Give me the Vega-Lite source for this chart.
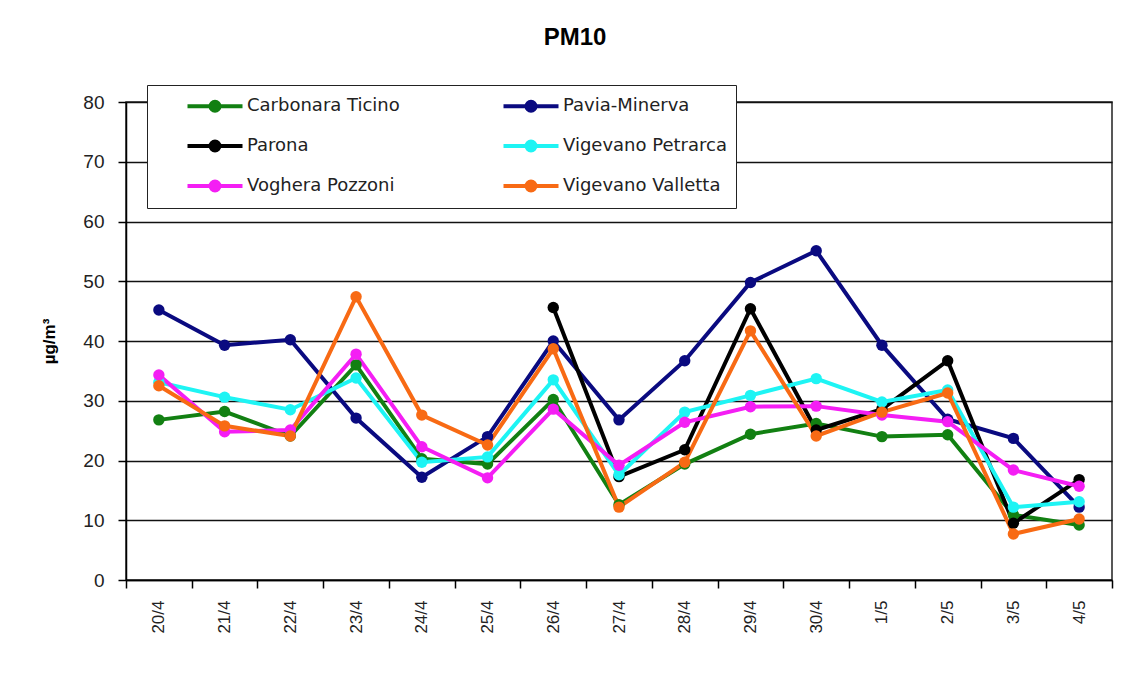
{
  "$schema": "https://vega.github.io/schema/vega-lite/v6.json",
  "width": 986,
  "height": 478,
  "autosize": {"type": "none"},
  "padding": {"left": 126, "top": 102, "right": 33, "bottom": 117},
  "background": "white",
  "title": {
    "text": "PM10",
    "anchor": "middle",
    "dx": -44,
    "offset": 35,
    "font": "Liberation Sans",
    "fontSize": 24,
    "fontWeight": "bold",
    "color": "black"
  },
  "data": {
    "values": [
      {"date": "20/4", "station": "Carbonara Ticino", "value": 26.8},
      {"date": "21/4", "station": "Carbonara Ticino", "value": 28.2},
      {"date": "22/4", "station": "Carbonara Ticino", "value": 24.1},
      {"date": "23/4", "station": "Carbonara Ticino", "value": 36.0},
      {"date": "24/4", "station": "Carbonara Ticino", "value": 20.3},
      {"date": "25/4", "station": "Carbonara Ticino", "value": 19.4},
      {"date": "26/4", "station": "Carbonara Ticino", "value": 30.2},
      {"date": "27/4", "station": "Carbonara Ticino", "value": 12.6},
      {"date": "28/4", "station": "Carbonara Ticino", "value": 19.4},
      {"date": "29/4", "station": "Carbonara Ticino", "value": 24.4},
      {"date": "30/4", "station": "Carbonara Ticino", "value": 26.2},
      {"date": "1/5", "station": "Carbonara Ticino", "value": 24.0},
      {"date": "2/5", "station": "Carbonara Ticino", "value": 24.3},
      {"date": "3/5", "station": "Carbonara Ticino", "value": 10.9},
      {"date": "4/5", "station": "Carbonara Ticino", "value": 9.2},

      {"date": "20/4", "station": "Pavia-Minerva", "value": 45.2},
      {"date": "21/4", "station": "Pavia-Minerva", "value": 39.3},
      {"date": "22/4", "station": "Pavia-Minerva", "value": 40.2},
      {"date": "23/4", "station": "Pavia-Minerva", "value": 27.1},
      {"date": "24/4", "station": "Pavia-Minerva", "value": 17.2},
      {"date": "25/4", "station": "Pavia-Minerva", "value": 24.0},
      {"date": "26/4", "station": "Pavia-Minerva", "value": 40.0},
      {"date": "27/4", "station": "Pavia-Minerva", "value": 26.8},
      {"date": "28/4", "station": "Pavia-Minerva", "value": 36.7},
      {"date": "29/4", "station": "Pavia-Minerva", "value": 49.8},
      {"date": "30/4", "station": "Pavia-Minerva", "value": 55.1},
      {"date": "1/5", "station": "Pavia-Minerva", "value": 39.3},
      {"date": "2/5", "station": "Pavia-Minerva", "value": 26.9},
      {"date": "3/5", "station": "Pavia-Minerva", "value": 23.7},
      {"date": "4/5", "station": "Pavia-Minerva", "value": 12.2},

      {"date": "26/4", "station": "Parona", "value": 45.6},
      {"date": "27/4", "station": "Parona", "value": 17.3},
      {"date": "28/4", "station": "Parona", "value": 21.8},
      {"date": "29/4", "station": "Parona", "value": 45.4},
      {"date": "30/4", "station": "Parona", "value": 25.1},
      {"date": "1/5", "station": "Parona", "value": 28.6},
      {"date": "2/5", "station": "Parona", "value": 36.7},
      {"date": "3/5", "station": "Parona", "value": 9.5},
      {"date": "4/5", "station": "Parona", "value": 16.8},

      {"date": "20/4", "station": "Vigevano Petrarca", "value": 33.1},
      {"date": "21/4", "station": "Vigevano Petrarca", "value": 30.6},
      {"date": "22/4", "station": "Vigevano Petrarca", "value": 28.5},
      {"date": "23/4", "station": "Vigevano Petrarca", "value": 33.8},
      {"date": "24/4", "station": "Vigevano Petrarca", "value": 19.7},
      {"date": "25/4", "station": "Vigevano Petrarca", "value": 20.6},
      {"date": "26/4", "station": "Vigevano Petrarca", "value": 33.5},
      {"date": "27/4", "station": "Vigevano Petrarca", "value": 17.6},
      {"date": "28/4", "station": "Vigevano Petrarca", "value": 28.1},
      {"date": "29/4", "station": "Vigevano Petrarca", "value": 30.9},
      {"date": "30/4", "station": "Vigevano Petrarca", "value": 33.7},
      {"date": "1/5", "station": "Vigevano Petrarca", "value": 29.8},
      {"date": "2/5", "station": "Vigevano Petrarca", "value": 31.8},
      {"date": "3/5", "station": "Vigevano Petrarca", "value": 12.2},
      {"date": "4/5", "station": "Vigevano Petrarca", "value": 13.1},

      {"date": "20/4", "station": "Voghera Pozzoni", "value": 34.3},
      {"date": "21/4", "station": "Voghera Pozzoni", "value": 24.8},
      {"date": "22/4", "station": "Voghera Pozzoni", "value": 25.1},
      {"date": "23/4", "station": "Voghera Pozzoni", "value": 37.8},
      {"date": "24/4", "station": "Voghera Pozzoni", "value": 22.3},
      {"date": "25/4", "station": "Voghera Pozzoni", "value": 17.1},
      {"date": "26/4", "station": "Voghera Pozzoni", "value": 28.6},
      {"date": "27/4", "station": "Voghera Pozzoni", "value": 19.2},
      {"date": "28/4", "station": "Voghera Pozzoni", "value": 26.4},
      {"date": "29/4", "station": "Voghera Pozzoni", "value": 29.0},
      {"date": "30/4", "station": "Voghera Pozzoni", "value": 29.1},
      {"date": "1/5", "station": "Voghera Pozzoni", "value": 27.6},
      {"date": "2/5", "station": "Voghera Pozzoni", "value": 26.5},
      {"date": "3/5", "station": "Voghera Pozzoni", "value": 18.4},
      {"date": "4/5", "station": "Voghera Pozzoni", "value": 15.7},

      {"date": "20/4", "station": "Vigevano Valletta", "value": 32.5},
      {"date": "21/4", "station": "Vigevano Valletta", "value": 25.8},
      {"date": "22/4", "station": "Vigevano Valletta", "value": 24.1},
      {"date": "23/4", "station": "Vigevano Valletta", "value": 47.4},
      {"date": "24/4", "station": "Vigevano Valletta", "value": 27.6},
      {"date": "25/4", "station": "Vigevano Valletta", "value": 22.6},
      {"date": "26/4", "station": "Vigevano Valletta", "value": 38.7},
      {"date": "27/4", "station": "Vigevano Valletta", "value": 12.2},
      {"date": "28/4", "station": "Vigevano Valletta", "value": 19.7},
      {"date": "29/4", "station": "Vigevano Valletta", "value": 41.7},
      {"date": "30/4", "station": "Vigevano Valletta", "value": 24.1},
      {"date": "1/5", "station": "Vigevano Valletta", "value": 28.1},
      {"date": "2/5", "station": "Vigevano Valletta", "value": 31.3},
      {"date": "3/5", "station": "Vigevano Valletta", "value": 7.7},
      {"date": "4/5", "station": "Vigevano Valletta", "value": 10.2}
    ]
  },
  "mark": {
    "type": "line",
    "strokeWidth": 4,
    "point": {"filled": true, "size": 130, "opacity": 1}
  },
  "encoding": {
    "x": {
      "field": "date",
      "type": "nominal",
      "sort": ["20/4","21/4","22/4","23/4","24/4","25/4","26/4","27/4","28/4","29/4","30/4","1/5","2/5","3/5","4/5"],
      "scale": {"type": "band", "paddingInner": 0, "paddingOuter": 0},
      "axis": {
        "title": null,
        "labelAngle": -90,
        "labelFont": "Liberation Sans",
        "labelFontSize": 17,
        "labelColor": "#222",
        "labelPadding": 12,
        "tickBand": "extent",
        "tickColor": "black",
        "tickSize": 8,
        "tickWidth": 1.5,
        "domainColor": "black",
        "domainWidth": 1.5,
        "grid": false
      }
    },
    "y": {
      "field": "value",
      "type": "quantitative",
      "scale": {"domain": [0, 80], "nice": false},
      "axis": {
        "title": "µg/m³",
        "titleFont": "Liberation Sans",
        "titleFontSize": 17,
        "titleFontWeight": "bold",
        "titleColor": "black",
        "titlePadding": 24,
        "values": [0,10,20,30,40,50,60,70,80],
        "labelFont": "Liberation Sans",
        "labelFontSize": 19,
        "labelColor": "#222",
        "labelPadding": 14,
        "tickColor": "black",
        "tickSize": 8,
        "tickWidth": 1.5,
        "domainColor": "black",
        "domainWidth": 1.5,
        "grid": true,
        "gridColor": "#111",
        "gridWidth": 1.5
      }
    },
    "color": {
      "field": "station",
      "type": "nominal",
      "sort": ["Carbonara Ticino","Pavia-Minerva","Parona","Vigevano Petrarca","Voghera Pozzoni","Vigevano Valletta"],
      "scale": {
        "domain": ["Carbonara Ticino","Pavia-Minerva","Parona","Vigevano Petrarca","Voghera Pozzoni","Vigevano Valletta"],
        "range": ["#128012","#0a0a80","#000000","#1ef4f4","#f41ef4","#f86a14"]
      },
      "legend": {
        "title": null,
        "orient": "none",
        "direction": "horizontal",
        "legendX": 21,
        "legendY": -17,
        "columns": 2,
        "gridAlign": "all",
        "columnPadding": 61,
        "rowPadding": 14,
        "padding": 9,
        "strokeColor": "#222",
        "fillColor": "white",
        "labelFont": "DejaVu Sans",
        "labelFontSize": 18,
        "labelLimit": 400,
        "labelColor": "#222",
        "labelOffset": 20,
        "symbolOffset": 47,
        "symbolType": "M-2.75,0L2.75,0M0.45,0A0.45,0.45,0,1,1,-0.45,0A0.45,0.45,0,1,1,0.45,0Z",
        "symbolSize": 400,
        "symbolStrokeWidth": 4,
        "symbolOpacity": 1,
        "encode": {
          "symbols": {"update": {"fill": {"scale": "color", "field": "value"}}}
        }
      }
    }
  },
  "config": {
    "view": {"stroke": "#222", "strokeWidth": 1.5}
  }
}
